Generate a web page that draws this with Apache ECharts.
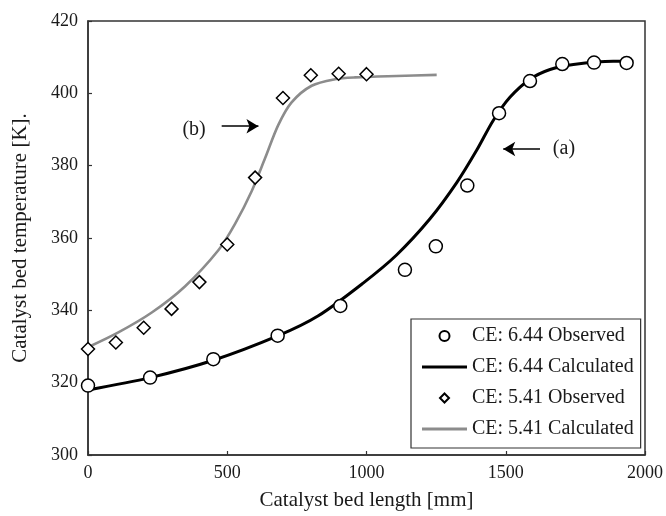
<!DOCTYPE html>
<html>
<head>
<meta charset="utf-8">
<script src="https://cdn.jsdelivr.net/npm/echarts@6/dist/echarts.min.js"></script>
<style>
  html, body { margin: 0; padding: 0; background: #fff; }
  #chart { width: 666px; height: 516px; }
</style>
</head>
<body>
<div id="chart"></div>
<script>
// observed points, CE 6.44
const obs644X = [0, 223, 450, 681, 906, 1138, 1249, 1362, 1476, 1587, 1703, 1817, 1934]
const obs644T = [319.2, 321.4, 326.5, 333.0, 341.2, 351.2, 357.7, 374.5, 394.5, 403.4, 408.1, 408.5, 408.4]
// calculated curve, CE 6.44
const calc644X = [0, 223, 450, 683, 827, 989, 1108, 1228, 1324, 1396, 1455, 1515, 1587, 1659, 1743, 1886, 1958]
const calc644T = [318.0, 321.4, 326.2, 333.0, 338.5, 347.6, 355.3, 365.3, 375.3, 384.3, 392.5, 398.9, 403.9, 406.6, 408.0, 408.9, 408.9]
// observed points, CE 5.41
const obs541X = [0, 100, 200, 300, 400, 500, 600, 700, 800, 900, 1000]
const obs541T = [329.3, 331.1, 335.2, 340.4, 347.8, 358.2, 376.7, 398.7, 405.0, 405.4, 405.3]
// calculated curve, CE 5.41
const calc541X = [0, 109, 229, 348, 468, 528, 588, 636, 683, 731, 803, 887, 959, 1108, 1252]
const calc541T = [329.8, 333.9, 339.4, 346.6, 356.6, 363.9, 373.0, 382.1, 391.2, 397.5, 402.1, 403.9, 404.4, 404.8, 405.1]

const seriesNames = ['CE: 6.44 Observed', 'CE: 6.44 Calculated', 'CE: 5.41 Observed', 'CE: 5.41 Calculated']
const xTicks = [0, 500, 1000, 1500, 2000]
const yTicks = [300, 320, 340, 360, 380, 400, 420]

// annotation labels and arrows (data coords)
const noteA = { text: '(a)', at: [1709, 384.8], from: [1623, 384.6], to: [1491, 384.6] }
const noteB = { text: '(b)', at: [381, 390.0], from: [480, 390.9], to: [612, 390.9] }

const zip = (xs, ys) => xs.map((x, i) => [x, ys[i]])
const serif = "'Liberation Serif', 'Times New Roman', serif"
const ink = '#1a1a1a'

// legend icons: the leading moves pin the box to 45x10 so shapes are not stretched
const lineIcon = 'path://M0,0 M45,10 M0,3.5 L45,3.5 L45,6.5 L0,6.5 Z'
const diamondIcon = 'path://M0,0 M45,10 M22.5,0.5 L27,5 L22.5,9.5 L18,5 Z'

const chart = echarts.init(document.getElementById('chart'))

const arrowLine = (n) => [
  { coord: n.from, symbol: 'none' },
  { coord: n.to, symbol: 'arrow' }
]

const option = {
  backgroundColor: '#fff',
  animation: false,
  textStyle: { fontFamily: serif, color: ink },
  grid: {
    left: 88, right: 21, top: 21, bottom: 55,
    show: true, borderColor: '#333', borderWidth: 1.5, backgroundColor: 'transparent'
  },
  legend: {
    orient: 'vertical',
    left: 411, top: 319,
    padding: [7, 7, 9, 10],
    itemWidth: 45, itemHeight: 10, itemGap: 11,
    borderColor: '#333', borderWidth: 1.2,
    backgroundColor: '#fff',
    textStyle: { fontFamily: serif, fontSize: 20, lineHeight: 20, color: ink },
    data: [
      { name: seriesNames[0], icon: 'circle' },
      { name: seriesNames[1], icon: lineIcon, itemStyle: { borderWidth: 0 } },
      { name: seriesNames[2], icon: diamondIcon },
      { name: seriesNames[3], icon: lineIcon, itemStyle: { borderWidth: 0 } }
    ]
  },
  xAxis: {
    type: 'value', min: xTicks[0], max: xTicks[xTicks.length - 1], interval: 500,
    name: 'Catalyst bed length [mm]', nameLocation: 'middle', nameGap: 35,
    nameTextStyle: { fontFamily: serif, fontSize: 21, color: ink },
    axisLine: { lineStyle: { color: '#333', width: 1.5 } },
    axisTick: { inside: true, length: 4, lineStyle: { color: '#333', width: 1.2 } },
    axisLabel: { fontFamily: serif, fontSize: 18, color: ink, margin: 9, formatter: v => String(v) },
    splitLine: { show: false }
  },
  yAxis: {
    type: 'value', min: yTicks[0], max: yTicks[yTicks.length - 1], interval: 20,
    name: 'Catalyst bed temperature [K].', nameLocation: 'middle', nameGap: 57,
    nameTextStyle: { fontFamily: serif, fontSize: 21, color: ink },
    axisLine: { show: true, lineStyle: { color: '#333', width: 1.5 } },
    axisTick: { show: true, inside: true, length: 4, lineStyle: { color: '#333', width: 1.2 } },
    axisLabel: { fontFamily: serif, fontSize: 18, color: ink, margin: 10, formatter: v => String(v) },
    splitLine: { show: false }
  },
  series: [
    {
      name: seriesNames[1], type: 'line', data: zip(calc644X, calc644T),
      smooth: 0.3, symbol: 'none', z: 2,
      lineStyle: { color: '#000', width: 3 }, itemStyle: { color: '#000' },
      markLine: {
        silent: true, symbolSize: [11, 12],
        lineStyle: { color: '#000', width: 1.6, type: 'solid' },
        label: { show: false },
        data: [arrowLine(noteA), arrowLine(noteB)]
      },
      markPoint: {
        silent: true, symbol: 'rect', symbolSize: 1,
        itemStyle: { color: 'transparent' },
        label: { show: true, position: 'inside', fontFamily: serif, fontSize: 20, color: ink, formatter: p => p.name },
        data: [
          { name: noteA.text, coord: noteA.at },
          { name: noteB.text, coord: noteB.at }
        ]
      }
    },
    {
      name: seriesNames[3], type: 'line', data: zip(calc541X, calc541T),
      smooth: 0.3, symbol: 'none', z: 2,
      lineStyle: { color: '#8c8c8c', width: 2.6 }, itemStyle: { color: '#8c8c8c' }
    },
    {
      name: seriesNames[0], type: 'scatter', data: zip(obs644X, obs644T),
      symbol: 'circle', symbolSize: 13, z: 3,
      itemStyle: { color: '#fff', borderColor: '#000', borderWidth: 1.5, opacity: 1 }
    },
    {
      name: seriesNames[2], type: 'scatter', data: zip(obs541X, obs541T),
      symbol: 'diamond', symbolSize: 13, z: 3,
      itemStyle: { color: '#fff', borderColor: '#000', borderWidth: 1.5, opacity: 1 }
    }
  ]
}

chart.setOption(option)
window.addEventListener('resize', () => chart.resize())
</script>
</body>
</html>
